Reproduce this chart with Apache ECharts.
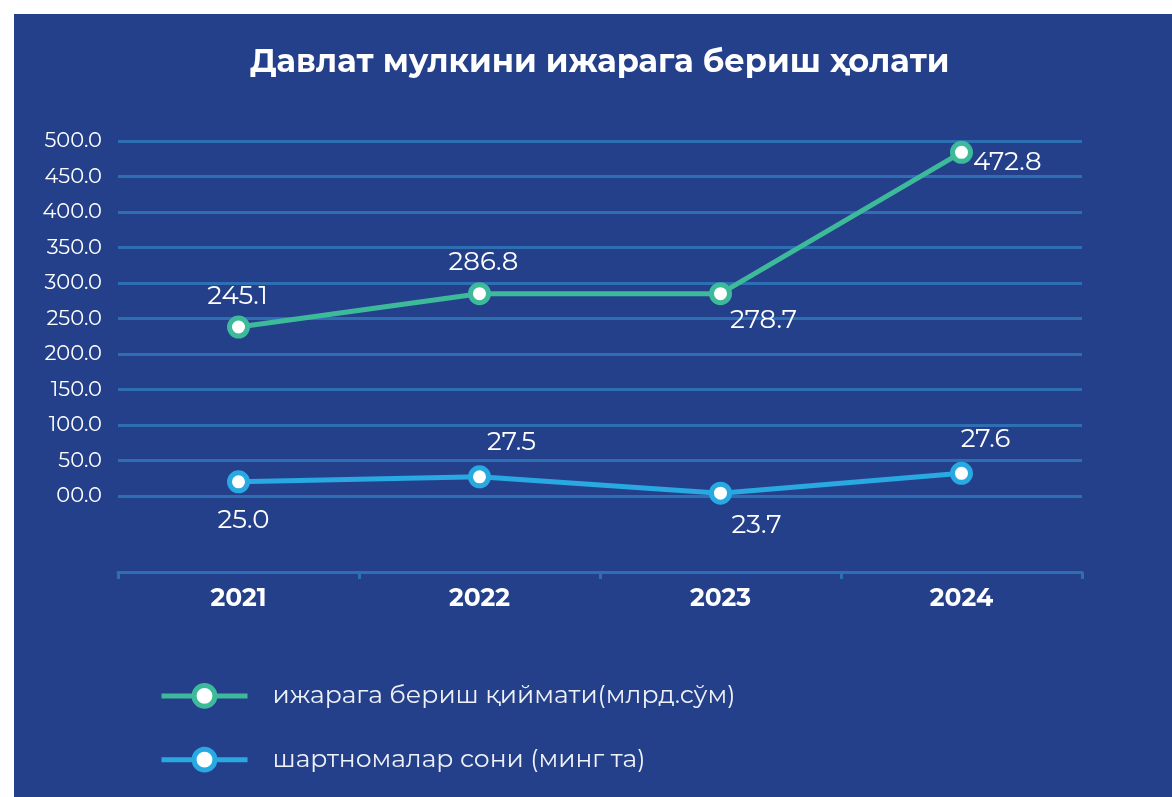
<!DOCTYPE html>
<html>
<head>
<meta charset="utf-8">
<script src="https://cdn.jsdelivr.net/npm/echarts@6/dist/echarts.min.js"></script>
<style>
  body { margin: 0; background: #ffffff; }
  #main { position: absolute; left: 14px; top: 14px; width: 1158px; height: 783px; }
</style>
</head>
<body>
<div id="main"></div>
<script>
// categories
const years = ['2021', '2022', '2023', '2024']
// plotted positions
const rentValue = [238, 285, 285, 484]
const contracts = [20, 27, 4, 32]
// texts shown next to the points
const rentLabels = ['245.1', '286.8', '278.7', '472.8']
const contractLabels = ['25.0', '27.5', '23.7', '27.6']
const seriesNames = ['ижарага бериш қиймати(млрд.сўм)', 'шартномалар сони (минг та)']

const font = 'Montserrat, "Open Sans", "Noto Sans", sans-serif'

// label placement for each point
const rentPos = [
  { position: 'top', distance: 6, offset: [-1, 0] },
  { position: 'top', distance: 7, offset: [4, 0] },
  { position: 'bottom', distance: 2, offset: [43, 0] },
  { position: 'right', distance: 0, offset: [0, 10] }
]
const contractPos = [
  { position: 'bottom', distance: 14, offset: [5, 0] },
  { position: 'top', distance: 10, offset: [32, 0] },
  { position: 'bottom', distance: 8, offset: [36, 0] },
  { position: 'top', distance: 9, offset: [24, 0] }
]

function makeData(vals, texts, pos) {
  return vals.map(function (v, i) {
    return {
      value: v,
      label: Object.assign({ formatter: texts[i] }, pos[i])
    }
  })
}

const myChart = echarts.init(document.getElementById('main'))

const option = {
  backgroundColor: '#25408a',
  animation: false,
  title: {
    text: 'Давлат мулкини ижарага бериш ҳолати',
    left: 231,
    top: 28,
    textStyle: { color: '#ffffff', fontFamily: font, fontSize: 32, fontWeight: 'bold' }
  },
  grid: { left: 104, right: 90, top: 127, bottom: 301 },
  xAxis: {
    type: 'category',
    data: years,
    offset: 76,
    axisLine: { onZero: false, lineStyle: { color: '#2e6fb3', width: 3 } },
    axisTick: { show: true, length: 7, lineStyle: { color: '#2e6fb3', width: 3 } },
    axisLabel: { color: '#ffffff', fontFamily: font, fontSize: 25, fontWeight: 'bold', margin: 14 }
  },
  yAxis: {
    type: 'value',
    min: 0,
    max: 500,
    interval: 50,
    axisLine: { show: false },
    axisTick: { show: false },
    splitLine: { lineStyle: { color: '#2e6fb3', width: 3 } },
    axisLabel: {
      color: '#ffffff',
      fontFamily: font,
      fontSize: 21,
      margin: 16,
      formatter: function (v) { return v === 0 ? '00.0' : v.toFixed(1) }
    }
  },
  legend: {
    orient: 'vertical',
    left: 140,
    top: 664,
    itemGap: 38,
    itemWidth: 86,
    itemHeight: 26,
    lineStyle: { width: 5 },
    itemStyle: { borderWidth: 5 },
    textStyle: { color: '#eef1f8', fontFamily: font, fontSize: 25, padding: [0, 0, 0, 20] },
    data: seriesNames
  },
  series: [
    {
      name: seriesNames[0],
      type: 'line',
      data: makeData(rentValue, rentLabels, rentPos),
      symbol: 'circle',
      symbolSize: 18,
      lineStyle: { color: '#3dba9a', width: 5 },
      itemStyle: { color: '#ffffff', borderColor: '#3dba9a', borderWidth: 5 },
      label: { show: true, color: '#ffffff', fontFamily: font, fontSize: 26 }
    },
    {
      name: seriesNames[1],
      type: 'line',
      data: makeData(contracts, contractLabels, contractPos),
      symbol: 'circle',
      symbolSize: 18,
      lineStyle: { color: '#29a9e1', width: 5 },
      itemStyle: { color: '#ffffff', borderColor: '#29a9e1', borderWidth: 5 },
      label: { show: true, color: '#ffffff', fontFamily: font, fontSize: 26 }
    }
  ]
}
myChart.setOption(option)
</script>
</body>
</html>
